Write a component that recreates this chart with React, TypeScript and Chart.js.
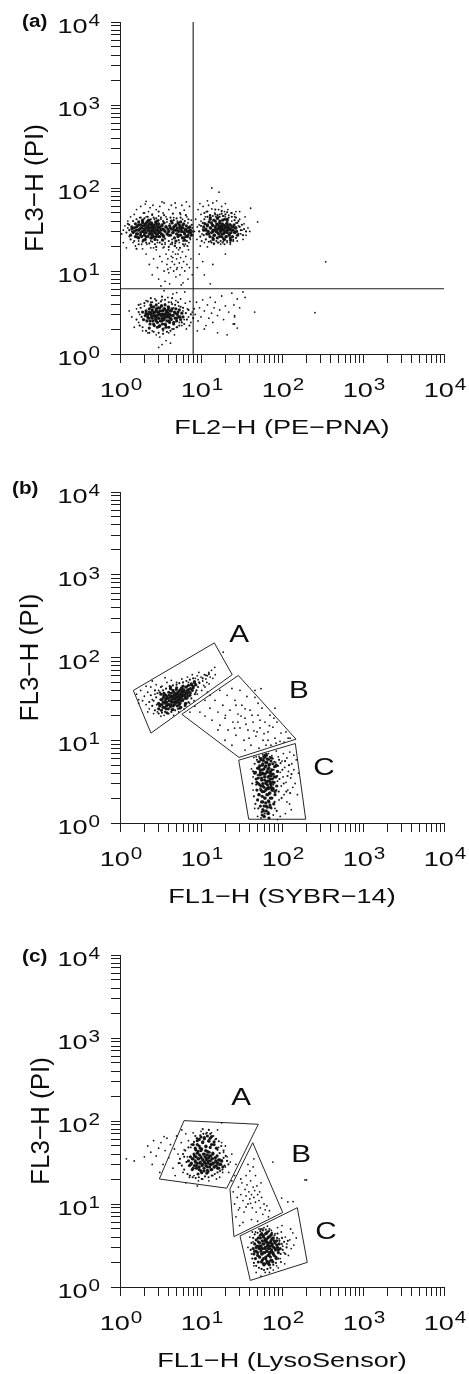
import React, { useEffect, useRef } from "react";
import { Chart, registerables } from "chart.js";

Chart.register(...registerables);

type P = [number, number];

// ---------- axes ----------
const AXIS_TICKS = [
  1, 2, 3, 4, 5, 6, 7, 8, 9,
  10, 20, 30, 40, 50, 60, 70, 80, 90,
  100, 200, 300, 400, 500, 600, 700, 800, 900,
  1000, 2000, 3000, 4000, 5000, 6000, 7000, 8000, 9000,
  10000,
];
const DECADES = [1, 10, 100, 1000, 10000];
const DECADE_EXP = ["0", "1", "2", "3", "4"];

// ---------- panel (a) ----------
const A_UL_CORE: P[] = [
  [1.5, 30], [1.6, 34], [1.6, 28], [1.7, 36], [1.7, 31], [1.8, 27], [1.8, 33], [1.9, 38], [1.9, 30], [2.0, 35],
  [2.0, 29], [2.0, 32], [2.1, 26], [2.1, 37], [2.2, 31], [2.2, 34], [2.3, 28], [2.3, 33], [2.4, 36], [2.4, 30],
  [2.5, 32], [2.5, 27], [2.6, 35], [2.6, 30], [2.7, 33], [2.8, 28], [2.8, 37], [2.9, 31], [3.0, 34], [3.1, 29],
  [3.2, 32], [3.3, 36], [3.4, 27], [3.5, 31], [1.4, 32], [1.9, 41], [2.3, 40], [2.9, 40], [3.7, 34], [1.65, 25.5],
  [2.45, 25], [3.0, 26], [4.2, 33], [4.5, 29], [4.8, 35], [5.0, 31], [5.3, 27], [5.5, 34], [5.8, 30], [6.0, 36],
  [6.3, 28], [6.5, 32], [6.8, 26], [7.0, 30], [7.3, 34], [4.0, 27], [5.2, 38], [6.1, 25], [7.5, 29], [4.6, 31.5],
  [5.7, 32.5],
];
const A_UL_CORE2: P[] = [
  [1.45, 29], [1.5, 33], [1.55, 26], [1.55, 37], [1.6, 31], [1.65, 28], [1.65, 35], [1.7, 39], [1.7, 25], [1.75, 32],
  [1.8, 29], [1.8, 36], [1.85, 26], [1.85, 33], [1.9, 30], [1.9, 40], [1.95, 35], [2.0, 27], [2.0, 31], [2.05, 37],
  [2.05, 24], [2.1, 33], [2.1, 29], [2.15, 39], [2.2, 26], [2.2, 35], [2.25, 31], [2.3, 28], [2.3, 37], [2.35, 33],
  [2.4, 25], [2.4, 30], [2.45, 38], [2.5, 34], [2.5, 28], [2.55, 31], [2.6, 26], [2.6, 36], [2.65, 33], [2.7, 29],
  [2.75, 39], [2.8, 31], [2.8, 26], [2.85, 35], [2.9, 28], [2.95, 33], [3.0, 30], [3.0, 37], [3.1, 26], [3.1, 34],
  [3.2, 31], [3.25, 28], [3.3, 35], [3.4, 32], [3.45, 26], [3.5, 38], [3.6, 30], [3.7, 34], [3.8, 28], [3.9, 32],
  [1.4, 34], [1.35, 27], [2.25, 41], [2.7, 24], [1.95, 23.5], [3.35, 23.5],
  [4.0, 30], [4.1, 35], [4.2, 27], [4.3, 32], [4.4, 38], [4.5, 29], [4.6, 34], [4.7, 25], [4.8, 31], [4.9, 36],
  [5.0, 28], [5.1, 33], [5.2, 26], [5.3, 30], [5.4, 36], [5.5, 32], [5.6, 27], [5.7, 34], [5.8, 30], [5.9, 25],
  [6.0, 33], [6.1, 37], [6.2, 29], [6.4, 31], [6.5, 26], [6.6, 35], [6.8, 30], [6.9, 27], [7.0, 33], [7.2, 29],
  [7.4, 31], [7.6, 27], [4.3, 40], [5.6, 39], [6.3, 23.5], [4.9, 23],
];
const A_UL_HALO: P[] = [
  [1.3, 36], [1.35, 24], [1.45, 40], [1.5, 23], [1.6, 42], [1.7, 21], [1.8, 44], [1.9, 22.5], [2.0, 43], [2.1, 22],
  [2.2, 45], [2.3, 21.5], [2.4, 42], [2.5, 22.5], [2.6, 44], [2.7, 21], [2.8, 43], [2.9, 23.5], [3.0, 41], [3.1, 22],
  [3.2, 44], [3.3, 21], [3.4, 40], [3.6, 24.5], [3.8, 42], [4.0, 23], [4.2, 44], [4.4, 22], [4.6, 41], [4.8, 21.5],
  [5.0, 43], [5.3, 23.5], [5.6, 44], [6.0, 21], [6.3, 40], [6.7, 23], [7.0, 42], [7.3, 25], [7.7, 36], [1.2, 29],
  [1.25, 37], [1.3, 31], [8.0, 30], [7.9, 27], [2.5, 48], [3.5, 47], [4.5, 49], [5.5, 50], [6.5, 47], [2.0, 50],
  [3.0, 52], [1.6, 18.5], [2.8, 19.5], [4.0, 19.5], [5.5, 19], [6.8, 20],
];
const A_UL_SPARSE: P[] = [
  [1.05, 28], [1.1, 22], [1.15, 35], [1.2, 19], [1.25, 40], [1.3, 26], [1.35, 45], [1.1, 31], [1.45, 22], [1.5, 48],
  [1.55, 20], [1.6, 55], [1.7, 23], [1.75, 44], [1.8, 60], [1.85, 21], [1.95, 50], [2.05, 64], [2.1, 45], [2.15, 21],
  [2.25, 52], [2.35, 58], [2.4, 23], [2.5, 47], [2.55, 62], [2.65, 42], [2.7, 24], [2.8, 55], [2.9, 22], [3.0, 46],
  [3.1, 60], [3.2, 42], [3.3, 24], [3.4, 50], [3.5, 66], [3.6, 22], [3.7, 45], [3.8, 39], [3.9, 29], [4.0, 55],
  [4.1, 37], [4.3, 62], [4.4, 24], [4.6, 44], [4.7, 20], [4.9, 58], [5.1, 40], [5.4, 22], [5.6, 48], [5.9, 42],
  [6.2, 54], [6.4, 21], [6.7, 45], [6.9, 38], [7.2, 60], [7.4, 24], [7.6, 41], [7.8, 33], [3.3, 68], [2.1, 69],
  [4.8, 66], [5.8, 62], [6.6, 68], [1.4, 30], [1.25, 33], [1.9, 18.5], [2.6, 19], [3.5, 19.5], [4.2, 21], [5.0, 19],
  [6.0, 23], [7.1, 22],
];
const A_DRIP: P[] = [
  [2.1, 16], [2.3, 12], [2.5, 9], [2.6, 14], [2.8, 18], [2.9, 11], [3.0, 8], [3.1, 15], [3.3, 13], [3.4, 19],
  [3.5, 10], [3.6, 7.5], [3.7, 16], [3.8, 12], [3.9, 14], [4.0, 18], [4.0, 9.5], [4.2, 11], [4.3, 15], [4.4, 13],
  [4.5, 17], [4.6, 10], [4.7, 12], [4.8, 20], [4.9, 8.5], [5.0, 14], [5.1, 11], [5.2, 16], [5.3, 18], [5.4, 12.5],
  [5.5, 9], [5.6, 14.5], [5.8, 11], [5.9, 17], [6.0, 7.2], [6.1, 13], [6.3, 10], [6.5, 15], [6.7, 12], [6.9, 8],
  [7.0, 18], [7.2, 11], [7.5, 14], [7.8, 9], [3.2, 6.6], [4.1, 7.0], [5.7, 6.8], [2.4, 19], [3.6, 21], [4.4, 21],
  [6.2, 20], [5.0, 10.5], [4.5, 14.5], [3.9, 10.5], [4.85, 16], [10.5, 13], [11, 9], [13, 7], [9.5, 16], [14, 12],
  [20, 16], [9, 11],
];
const A_UR_CORE: P[] = [
  [11.5, 31], [12, 35], [12.5, 28], [13, 33], [13.5, 38], [14, 30], [14.5, 27], [15, 34], [15, 40], [15.5, 31],
  [16, 36], [16, 29], [16.5, 33], [17, 26], [17, 38], [17.5, 31], [18, 34], [18, 28], [18.5, 41], [19, 32],
  [19, 36], [19.5, 29], [20, 34], [20.5, 26], [21, 31], [21, 38], [22, 33], [22.5, 28], [23, 36], [24, 31],
  [25, 34], [26, 29], [27, 33], [13, 42], [16, 43], [21, 42], [14, 25], [19, 24.5], [23, 25], [10.8, 34],
  [17.5, 35], [14, 35.5],
];
const A_UR_CORE2: P[] = [
  [11.5, 32], [11.8, 28], [12, 36], [12.3, 30], [12.6, 39], [12.9, 26], [13.2, 33], [13.5, 29], [13.8, 36], [14.1, 31],
  [14.4, 41], [14.7, 27], [15, 34], [15.3, 30], [15.6, 37], [15.9, 25], [16.2, 32], [16.5, 28], [16.8, 35], [17.1, 40],
  [17.4, 30], [17.7, 33], [18, 26], [18.3, 37], [18.6, 31], [18.9, 28], [19.2, 35], [19.5, 42], [19.8, 30], [20.1, 33],
  [20.4, 26], [20.7, 37], [21, 29], [21.4, 34], [21.8, 31], [22.2, 27], [22.6, 36], [23, 32], [23.5, 29], [24, 34],
  [24.5, 26], [25, 31], [25.6, 36], [26.2, 29], [26.8, 33], [27.5, 30], [28.2, 27], [13, 44], [16, 44], [21, 41],
  [14.2, 24], [19.5, 24], [23.2, 23.5], [10.8, 31], [11.2, 37], [17, 32.5], [15, 31.5], [19, 32], [21, 35],
];
const A_UR_HALO: P[] = [
  [9.5, 30], [9.8, 26], [10, 35], [10.2, 23], [10.5, 38], [10.8, 27], [11, 42], [11.5, 24], [12, 45], [12.5, 22.5],
  [13, 47], [13.5, 22], [14, 46], [14.5, 21.5], [15, 48], [15.5, 23], [16, 47], [16.5, 22], [17, 45], [17.5, 23],
  [18, 49], [18.5, 22], [19, 46], [19.5, 21], [20, 48], [21, 23], [22, 44], [23, 22], [24, 45], [25, 23],
  [26, 41], [27, 25], [28, 38], [29, 28], [30, 34], [31, 31], [32, 36], [33, 27], [34, 32], [36, 30],
  [29, 40], [27, 44], [12, 52], [15, 55], [18, 53], [21, 51], [24, 50], [11, 50],
];
const A_UR_SPARSE: P[] = [
  [8.3, 30], [8.6, 42], [8.9, 24], [9.2, 55], [9.5, 36], [9.8, 20], [10, 48], [10.3, 28], [10.6, 60], [11, 22],
  [11.3, 45], [11.6, 52], [12, 19.5], [12.4, 62], [12.8, 47], [13.2, 23], [13.6, 56], [14, 66], [14.4, 21], [14.8, 50],
  [15.2, 45], [15.6, 70], [16, 22], [16.5, 55], [17, 48], [17.5, 21], [18, 60], [18.5, 46], [19, 23], [19.5, 52],
  [20, 45], [21, 22], [21.5, 55], [22, 47], [23, 21], [23.5, 50], [24, 40], [25, 24], [26, 45], [27, 38],
  [28, 23], [29, 35], [30, 42], [31, 28], [32, 31], [34, 37], [36, 27], [38, 33], [40, 30], [9, 34],
  [10, 40], [26, 48], [33, 24], [12, 70], [9.7, 65], [20, 65], [27, 52], [35, 45], [30, 52], [11, 38],
  [10.5, 32], [28, 30], [13.6, 100], [16.7, 89], [41, 57], [50, 39], [347, 12.9],
];
const A_LOW_CORE: P[] = [
  [2.2, 2.8], [2.3, 3.2], [2.35, 2.5], [2.4, 3.0], [2.5, 2.7], [2.5, 3.4], [2.6, 2.3], [2.6, 3.1], [2.7, 2.9], [2.8, 3.5],
  [2.8, 2.5], [2.9, 3.2], [3.0, 2.7], [3.0, 3.0], [3.1, 2.2], [3.1, 3.6], [3.2, 2.9], [3.3, 3.3], [3.3, 2.5], [3.4, 3.0],
  [3.5, 2.7], [3.5, 3.5], [3.6, 2.3], [3.7, 3.1], [3.8, 2.8], [3.9, 3.4], [4.0, 2.5], [4.1, 3.0], [4.2, 2.7], [4.3, 3.3],
  [4.5, 2.9], [4.6, 2.4], [4.8, 3.1], [5.0, 2.7], [5.2, 3.2], [5.5, 2.8], [2.45, 3.7], [3.25, 3.8], [4.0, 3.6], [2.9, 2.1],
  [3.7, 2.1], [2.1, 3.1], [3.4, 2.6], [2.75, 2.75], [3.9, 2.95],
];
const A_LOW_CORE2: P[] = [
  [2.05, 2.9], [2.1, 3.3], [2.15, 2.5], [2.2, 3.0], [2.25, 2.7], [2.3, 3.5], [2.35, 2.3], [2.4, 3.1], [2.45, 2.8], [2.5, 3.3],
  [2.55, 2.5], [2.6, 3.7], [2.6, 2.9], [2.65, 2.2], [2.7, 3.2], [2.75, 2.6], [2.8, 3.4], [2.85, 2.9], [2.9, 2.4], [2.95, 3.6],
  [3.0, 3.1], [3.0, 2.7], [3.05, 2.15], [3.1, 3.3], [3.15, 2.5], [3.2, 3.0], [3.25, 3.8], [3.3, 2.7], [3.35, 2.3], [3.4, 3.3],
  [3.45, 2.9], [3.5, 2.6], [3.55, 3.5], [3.6, 3.0], [3.65, 2.25], [3.7, 2.8], [3.75, 3.3], [3.8, 2.5], [3.9, 3.1], [3.95, 3.7],
  [4.0, 2.8], [4.1, 2.4], [4.15, 3.3], [4.2, 2.95], [4.3, 2.6], [4.4, 3.5], [4.5, 2.9], [4.6, 2.3], [4.7, 3.2], [4.8, 2.7],
  [4.9, 3.5], [5.0, 2.5], [5.1, 3.0], [5.3, 2.8], [5.4, 3.4], [5.6, 2.6], [5.8, 3.1], [6.0, 2.8], [2.3, 2.05], [3.4, 2.0],
  [4.0, 2.1], [2.8, 3.9], [3.6, 3.9], [2.4, 3.9], [1.95, 2.6], [1.9, 3.2],
];
const A_LOW_HALO: P[] = [
  [1.6, 2.6], [1.7, 3.2], [1.75, 2.2], [1.8, 3.6], [1.85, 2.8], [1.9, 2.1], [2.0, 4.1], [2.1, 1.9], [2.2, 4.3], [2.3, 1.8],
  [2.5, 4.2], [2.6, 1.85], [2.8, 4.4], [3.0, 1.8], [3.2, 4.3], [3.4, 1.75], [3.6, 4.5], [3.8, 1.85], [4.0, 4.2], [4.2, 1.9],
  [4.4, 4.0], [4.6, 2.0], [4.8, 3.9], [5.0, 2.1], [5.2, 4.2], [5.4, 2.2], [5.6, 3.7], [5.8, 2.4], [6.0, 3.6], [6.2, 2.3],
  [6.5, 3.1], [6.7, 2.6], [7.0, 3.4], [7.2, 2.2], [7.5, 3.0], [8.0, 2.7], [8.2, 3.5], [1.7, 3.9], [2.4, 4.7], [3.3, 4.9],
  [4.4, 4.7],
];
const A_LOW_SPARSE: P[] = [
  [1.4, 2.8], [1.5, 2.1], [1.6, 3.5], [1.7, 2.4], [1.75, 3.0], [1.8, 4.0], [1.9, 1.9], [2.0, 2.6], [2.0, 3.8], [2.1, 4.4],
  [2.2, 1.8], [2.4, 4.2], [2.5, 1.9], [2.7, 4.6], [2.8, 1.7], [3.0, 4.1], [3.1, 1.6], [3.3, 4.5], [3.4, 1.9], [3.6, 4.0],
  [3.7, 1.45], [3.9, 4.8], [4.0, 1.8], [4.3, 4.2], [4.4, 2.0], [4.6, 3.6], [4.7, 1.7], [4.9, 4.4], [5.1, 2.1], [5.3, 3.8],
  [5.4, 2.4], [5.6, 4.6], [5.8, 2.2], [6.0, 3.3], [6.2, 2.6], [6.4, 4.1], [6.6, 2.0], [6.8, 3.5], [7.0, 2.8], [7.3, 4.3],
  [7.5, 2.4], [7.8, 3.2], [1.3, 3.3], [4.5, 5.3], [5.0, 5.5], [3.5, 5.8], [6.3, 5.6], [3.3, 1.3], [3.0, 1.2], [4.2, 1.35],
  [8.5, 3.0], [8.8, 4.2], [9.2, 2.5], [9.6, 3.6], [10, 2.8], [10.5, 4.5], [11, 3.3], [11.5, 2.2], [12, 3.9], [12.5, 2.7],
  [13, 4.8], [13.5, 3.1], [14, 2.4], [14.5, 3.6], [15, 4.2], [16, 2.9], [17, 3.4], [18, 5.0], [19, 2.6], [20, 3.8],
  [22, 3.2], [24, 5.4], [26, 2.9], [28, 4.6], [30, 3.6], [33, 5.6], [9, 1.9], [11, 2.0], [16, 1.8], [21, 1.7],
  [26, 2.3], [35, 4.8], [28, 2.05], [25.5, 3.9], [46, 3.2], [26, 2.8], [255, 3.15], [25, 2.3],
];
const A_QUAD_V: P[] = [[8, 1], [8, 10000]];
const A_QUAD_H: P[] = [[1, 6.1], [10000, 6.1]];

// ---------- panel (b) ----------
const B_A_CORE: P[] = [
  [3.1, 27], [3.3, 31], [3.4, 25], [3.5, 35], [3.6, 29], [3.8, 33], [3.9, 27], [4.0, 38], [4.1, 30], [4.2, 25.5],
  [4.3, 34], [4.4, 29], [4.5, 40], [4.6, 32], [4.7, 27], [4.8, 36], [4.9, 30], [5.0, 43], [5.0, 33], [5.1, 26],
  [5.2, 38], [5.3, 31], [5.4, 35], [5.5, 28], [5.6, 41], [5.7, 33], [5.8, 37], [5.9, 30], [6.0, 45], [6.1, 35],
  [6.3, 39], [6.5, 32], [6.6, 44], [6.8, 37], [7.0, 41], [7.3, 35], [7.6, 47], [8.0, 43], [8.3, 50], [3.7, 24],
  [4.5, 23.5], [5.5, 24.5], [4.2, 44], [3.2, 36], [6.4, 27.5], [4.65, 35], [5.25, 29], [5.75, 39.5],
];
const B_A_CORE2: P[] = [
  [3.0, 24], [3.0, 28], [3.1, 26], [3.2, 31], [3.25, 23], [3.3, 27], [3.4, 29], [3.45, 33], [3.5, 25], [3.6, 28],
  [3.65, 31], [3.7, 35], [3.75, 26], [3.8, 29], [3.9, 32], [3.95, 24], [4.0, 27], [4.05, 35], [4.1, 30], [4.2, 33],
  [4.25, 27], [4.3, 37], [4.35, 29], [4.4, 31], [4.5, 34], [4.55, 26], [4.6, 29], [4.65, 38], [4.7, 32], [4.8, 35],
  [4.85, 28], [4.9, 30], [4.95, 41], [5.0, 33], [5.05, 36], [5.1, 29], [5.2, 38], [5.25, 31], [5.3, 34], [5.4, 27],
  [5.45, 40], [5.5, 32], [5.6, 36], [5.7, 30], [5.75, 43], [5.8, 34], [5.9, 38], [6.0, 31], [6.1, 41], [6.2, 35],
  [6.3, 38], [6.4, 33], [6.5, 44], [6.6, 36], [6.8, 40], [6.9, 34], [7.0, 46], [7.2, 38], [7.4, 42], [7.6, 48],
  [7.8, 40], [8.0, 45], [8.3, 51], [8.6, 47], [4.2, 42], [3.5, 37], [5.6, 25], [6.5, 28], [4.4, 23.5], [3.8, 21.5],
];
const B_A_HALO: P[] = [
  [2.5, 26], [2.6, 30], [2.7, 23], [2.8, 33], [2.85, 27], [2.9, 37], [3.0, 21], [3.1, 38], [3.3, 21.5], [3.4, 40],
  [3.6, 22], [3.7, 42], [3.9, 21], [4.1, 45], [4.3, 22], [4.5, 46], [4.8, 23], [5.0, 47], [5.2, 24], [5.4, 49],
  [5.7, 25], [6.0, 50], [6.3, 26], [6.6, 52], [7.0, 29], [7.3, 54], [7.6, 32], [8.0, 56], [8.4, 36], [8.8, 40],
  [9.2, 44], [2.7, 40], [3.2, 44], [2.4, 35], [2.3, 29], [6.8, 32], [7.5, 37], [9.5, 50], [10.5, 56], [11.5, 61],
  [12.5, 63],
];
const B_A_SPARSE: P[] = [
  [8.8, 46], [9.2, 54], [9.6, 49], [10, 58], [10.5, 52], [11, 62], [11.5, 55], [12, 60], [12.5, 66], [13, 58],
  [9, 60], [10.8, 46], [13.5, 70], [8.5, 56], [11.8, 50],
  [1.6, 36], [1.8, 40], [1.9, 30], [2.0, 34], [2.1, 27], [2.2, 38], [2.3, 24], [2.4, 44], [2.5, 31], [2.6, 21],
  [2.7, 36], [2.8, 47], [2.9, 22], [3.0, 40], [3.2, 19.5], [3.3, 45], [3.5, 20], [3.8, 50], [4.0, 21], [4.3, 53],
  [4.6, 20], [5.0, 50], [5.3, 22], [5.8, 55], [6.2, 24], [6.8, 58], [7.2, 28], [7.8, 62], [8.2, 30], [9.4, 66],
  [10.2, 40], [11.2, 44], [12.6, 48], [14, 56], [15, 62], [14.8, 76], [18.8, 116], [2.2, 22], [1.7, 31], [2.5, 52],
  [3.6, 57], [6.5, 26], [9, 36], [7, 50], [8.6, 38], [12, 38], [1.7, 28], [2.1, 45],
];
const B_B_SPARSE: P[] = [
  [7.3, 21.9], [8.4, 25.8], [9.7, 21.9], [11.2, 30.4], [11.2, 19.6], [12.9, 34.9], [12.9, 24.4], [13.7, 17.5], [14.9, 30.4], [16.2, 21.9],
  [17.1, 40.1], [17.1, 15.2], [18.6, 26.5], [19.8, 18.5], [21, 34.9], [21.6, 13.3], [22.8, 23.1], [24.1, 42.2], [24.8, 16.6], [26.3, 30.4],
  [27, 11.5], [28.6, 20.7], [30.3, 40.1], [30.3, 14.1], [32, 26.5], [33.9, 10], [34.9, 18.5], [36.9, 33.9], [38, 13.3], [40.3, 23.1],
  [41.4, 8.7], [43.9, 16.6], [46.4, 33], [47.7, 11.2], [50.6, 20.1], [50.6, 28], [52, 8], [53.5, 14.1], [56.6, 24.4], [58.3, 10],
  [61.7, 16.6], [63.5, 8.7], [67.2, 12.6], [71, 20.1], [73, 8.7], [77.3, 14.4], [79.5, 18.5], [82, 10.6], [86.8, 16.6], [84.4, 9.2],
  [94.5, 9.7], [97.2, 12.2], [106, 9.5], [112, 12.6], [119, 10.6], [126, 10.6], [19.8, 10], [16.2, 13.3], [34.9, 7.6], [24.1, 8.7],
  [27, 26.5], [42.6, 20.1], [53.5, 17.5], [35.9, 15.6], [28.6, 16.6], [49.2, 12.6], [67.2, 10], [39.2, 10.6], [31.2, 19.6], [82, 24.4],
  [46.4, 40], [55, 42], [20, 20], [26, 14], [45, 13], [60, 12], [35, 24], [70, 15],
];
const B_C_CORE: P[] = [
  [55, 5.8], [60, 6.2], [66, 5.9], [58, 5.2], [63, 5.4], [69, 5.0], [52, 4.6], [57, 4.4], [62, 4.8], [67, 4.5],
  [72, 4.2], [54, 4.0], [60, 3.9], [65, 4.1], [70, 3.7], [75, 3.9], [51, 3.5], [56, 3.3], [61, 3.6], [66, 3.2],
  [71, 3.4], [76, 3.1], [53, 2.9], [58, 2.8], [63, 3.0], [68, 2.7], [73, 2.9], [78, 2.6], [55, 2.5], [60, 2.4],
  [65, 2.6], [70, 2.3], [75, 2.5], [52, 2.2], [57, 2.1], [62, 2.0], [67, 2.2], [72, 2.0], [58, 1.8], [63, 1.75],
  [68, 1.85], [60, 1.6], [66, 1.55], [71, 1.65], [64, 1.4], [58, 1.45], [62, 6.6], [49, 3.1], [80, 3.6], [47, 4.1],
  [82, 2.4], [56, 3.9], [74, 2.65],
];
const B_C_CORE2: P[] = [
  [48, 3.4], [49, 2.5], [50, 4.6], [50, 1.9], [51, 3.0], [52, 5.5], [52, 2.2], [53, 3.8], [54, 1.6], [54, 4.3],
  [55, 2.8], [55, 6.0], [56, 3.5], [56, 1.8], [57, 5.0], [57, 2.4], [58, 4.0], [58, 3.0], [59, 1.4], [59, 5.7],
  [60, 2.7], [60, 4.5], [61, 3.3], [61, 2.0], [62, 6.3], [62, 3.9], [63, 2.5], [63, 4.9], [64, 1.6], [64, 3.1],
  [65, 5.4], [65, 2.2], [66, 4.2], [66, 2.9], [67, 3.6], [67, 1.3], [68, 5.9], [68, 2.6], [69, 4.6], [69, 1.8],
  [70, 3.2], [70, 5.1], [71, 2.3], [71, 4.0], [72, 3.0], [72, 1.55], [73, 5.6], [73, 3.7], [74, 2.7], [75, 4.4],
  [75, 2.0], [76, 3.4], [77, 5.2], [77, 2.5], [78, 3.9], [79, 1.7], [80, 3.1], [81, 4.8], [82, 2.2], [84, 3.6],
  [86, 2.8], [88, 4.2], [64, 6.7], [60, 1.2], [69, 1.15], [53, 4.9], [57, 1.25], [74, 6.1], [85, 5.0], [46, 4.0],
];
const B_C_HALO: P[] = [
  [43, 3.0], [44, 4.2], [45, 2.1], [46, 5.2], [47, 1.7], [48, 2.9], [49, 5.8], [50, 3.8], [51, 1.5], [53, 6.1],
  [54, 2.6], [56, 1.35], [59, 6.4], [61, 1.3], [65, 6.5], [68, 1.35], [71, 6.3], [74, 1.5], [77, 6.0], [79, 4.4],
  [81, 1.8], [83, 5.4], [85, 2.5], [87, 3.7], [89, 4.9], [91, 2.4], [93, 3.4], [96, 5.3], [99, 2.0], [101, 4.4],
  [105, 3.0], [109, 5.6], [113, 2.4], [117, 3.7], [122, 5.0], [126, 2.3], [131, 3.9], [86, 1.4], [92, 5.8], [78, 2.9],
];
const B_C_SPARSE: P[] = [
  [42, 4.5], [44, 2.5], [45, 6.2], [46, 1.5], [48, 6.3], [50, 1.2], [52, 6.4], [55, 1.15], [58, 6.7], [62, 1.2],
  [68, 6.9], [70, 1.3], [75, 6.5], [78, 1.25], [80, 5.5], [82, 1.5], [85, 4.8], [88, 3.2], [90, 6.3], [92, 1.9],
  [95, 4.1], [98, 2.8], [100, 5.6], [103, 3.6], [106, 2.2], [108, 4.7], [112, 3.1], [115, 6.1], [118, 2.5], [120, 4.2],
  [124, 1.7], [128, 3.5], [132, 5.2], [136, 2.7], [140, 4.4], [145, 3.0], [150, 5.8], [155, 2.2], [140, 6.6], [125, 7.2],
  [110, 1.3], [95, 1.2], [50, 5.5], [44, 3.6], [88, 1.1], [160, 4.0], [130, 1.45], [85, 7.4], [104, 6.9], [115, 1.8],
];
const B_GATE_A: P[] = [[1.46, 40], [14.6, 150], [24.3, 62], [2.41, 12.2]];
const B_GATE_B: P[] = [[5.8, 20.6], [28.9, 60.7], [149, 10.3], [29.5, 6.2]];
const B_GATE_C: P[] = [[29.2, 5.74], [146, 9.12], [196, 1.11], [38.8, 1.11]];
const B_GATE_LABELS: [string, number, number][] = [["A", 29.5, 192], ["B", 162, 40], ["C", 330, 4.7]];

// ---------- panel (c) ----------
const C_A_CORE: P[] = [
  [7.5, 30], [7.8, 35], [8.0, 27], [8.3, 38], [8.5, 32], [8.8, 29], [9.0, 41], [9.2, 35], [9.5, 26], [9.7, 31],
  [10, 37], [10, 44], [10.3, 29], [10.6, 34], [10.9, 25], [11, 40], [11.3, 31], [11.6, 36], [12, 28], [12, 43],
  [12.3, 33], [12.7, 38], [13, 30], [13.3, 26], [13.6, 35], [14, 41], [14, 31], [14.5, 28], [15, 36], [15.5, 32],
  [16, 27], [16.5, 34], [17, 30], [18, 33], [9.8, 47], [11.5, 50], [13, 48], [9, 52], [10.5, 56], [12.5, 58],
  [14.5, 52], [11, 63], [9.5, 60], [13.5, 65], [8.6, 45], [12.2, 24.5], [10.2, 23.8],
];
const C_A_CORE2: P[] = [
  [7.0, 33], [7.2, 29], [7.4, 37], [7.6, 31], [7.8, 26], [8.0, 35], [8.2, 40], [8.3, 29], [8.5, 33], [8.7, 37],
  [8.8, 27], [9.0, 31], [9.2, 43], [9.3, 35], [9.5, 28], [9.6, 39], [9.8, 32], [10, 25], [10, 36], [10.2, 46],
  [10.4, 30], [10.5, 34], [10.7, 40], [10.9, 27], [11, 32], [11.2, 37], [11.4, 44], [11.5, 29], [11.7, 34], [11.9, 39],
  [12, 25.5], [12.2, 31], [12.4, 36], [12.6, 42], [12.8, 28], [13, 33], [13.2, 38], [13.4, 30], [13.6, 26], [13.8, 35],
  [14, 40], [14.3, 31], [14.6, 28], [14.9, 36], [15.2, 33], [15.5, 29], [15.8, 38], [16.2, 31], [16.6, 27], [17, 34],
  [17.5, 30], [18, 33], [18.6, 28], [9.5, 50], [10.5, 55], [11.5, 49], [12.5, 57], [13.5, 52], [9, 58], [11, 61],
  [12, 66], [10, 64], [13, 62], [14.5, 56], [8.5, 47], [15.5, 47], [11.8, 23.5], [9.2, 23], [8.0, 52],
];
const C_A_HALO: P[] = [
  [5.5, 35], [5.8, 29], [6.0, 40], [6.2, 26], [6.4, 44], [6.6, 32], [6.8, 23], [7.0, 48], [7.3, 22], [7.6, 52],
  [7.9, 21], [8.2, 56], [8.6, 20.5], [9.0, 62], [9.4, 21], [9.8, 67], [10.2, 20], [10.7, 70], [11.2, 21.5], [11.8, 72],
  [12.4, 21], [13, 70], [13.6, 22], [14.2, 66], [14.8, 23], [15.4, 61], [16, 24], [16.6, 57], [17.2, 25], [17.8, 50],
  [18.4, 26], [19, 44], [19.6, 29], [20.2, 38], [21, 33], [21.8, 30], [19, 36], [17, 41], [16, 45], [6.2, 37],
  [5.3, 31], [12.5, 78], [10.5, 80], [8.5, 66],
];
const C_A_SPARSE: P[] = [
  [1.2, 35], [1.5, 33], [2.2, 50], [2.4, 42], [2.6, 58], [2.8, 38], [3.0, 47], [3.2, 55], [3.4, 30], [3.6, 44],
  [3.8, 62], [4.0, 36], [4.2, 52], [4.5, 27], [4.7, 46], [5.0, 66], [5.2, 40], [5.5, 31], [5.7, 55], [6.0, 24],
  [6.2, 45], [6.5, 70], [6.8, 37], [7.0, 58], [7.2, 21], [7.5, 48], [8.0, 72], [8.2, 22], [8.8, 62], [9.3, 19],
  [10, 75], [10.5, 20], [11.5, 70], [12.5, 19], [13.5, 72], [14, 22], [15, 60], [15.5, 20], [16.5, 48], [17, 21],
  [18, 55], [18.5, 24], [19, 42], [20, 28], [21, 37], [22, 24], [23, 32], [24, 19], [4.8, 22], [3.5, 65],
  [5.8, 78], [20, 50], [24, 40], [26, 22], [27, 30], [6.5, 18], [9, 16.5], [16, 78], [18, 95], [3.1, 24],
  [2.0, 37], [2.5, 30],
];
const C_B_SPARSE: P[] = [
  [25, 14], [26, 10], [27, 7], [28, 12], [29, 16], [30, 9], [31, 13], [32, 18], [33, 11], [34, 8],
  [35, 15], [36, 12.5], [37, 17], [38, 10], [39, 14], [40, 11.5], [41, 19], [42, 13], [43, 9], [44, 16],
  [45, 12], [46, 14.5], [47, 10.5], [48, 8], [50, 13], [52, 11], [54, 9], [56, 12], [58, 7.5], [60, 10],
  [62, 8.5], [65, 9.5], [68, 7], [70, 8.3], [36, 22], [40, 25], [44, 28], [47, 22], [33, 6], [30, 5.5],
  [42, 6.5], [50, 6.2], [55, 18], [38, 30], [45, 35], [31, 20], [29, 8.5], [36, 9.2], [41, 10.2], [49, 16.5],
  [53, 14], [77, 32], [192, 19.5], [118, 10.6], [99, 11.8], [201, 19.5], [137, 10.7],
];
const C_C_CORE: P[] = [
  [48, 3.0], [50, 2.6], [51, 3.5], [53, 2.3], [54, 3.9], [55, 2.9], [57, 2.1], [58, 3.3], [59, 4.2], [60, 2.6],
  [62, 3.0], [63, 2.2], [64, 3.7], [65, 2.7], [66, 1.95], [67, 3.2], [68, 4.0], [69, 2.4], [70, 2.9], [72, 3.4],
  [73, 2.1], [74, 2.7], [76, 3.1], [78, 2.5], [80, 3.6], [82, 2.9], [84, 2.3], [86, 3.2], [56, 2.5], [61, 3.6],
  [66, 3.4], [71, 2.55], [75, 3.8], [52, 3.1], [63, 4.4], [59, 1.9], [77, 2.0], [90, 2.8], [46, 2.7], [70, 1.85],
];
const C_C_CORE2: P[] = [
  [44, 2.9], [45, 2.5], [46, 3.3], [47, 2.2], [48, 3.7], [48, 2.7], [49, 3.1], [50, 2.4], [51, 3.9], [51, 2.0],
  [52, 2.9], [53, 3.4], [53, 2.3], [54, 4.2], [55, 2.7], [55, 3.1], [56, 2.0], [57, 3.6], [57, 2.5], [58, 2.9],
  [59, 4.0], [59, 2.2], [60, 3.3], [61, 2.6], [61, 1.9], [62, 3.8], [62, 2.9], [63, 2.3], [64, 3.5], [64, 4.4],
  [65, 2.7], [65, 2.05], [66, 3.1], [67, 3.9], [67, 2.4], [68, 2.9], [69, 3.4], [69, 2.0], [70, 2.6], [71, 4.1],
  [71, 3.1], [72, 2.3], [73, 3.6], [74, 2.8], [75, 2.1], [76, 3.3], [77, 2.6], [78, 3.9], [79, 3.0], [80, 2.4],
  [82, 3.4], [83, 2.8], [85, 2.2], [86, 3.6], [88, 3.0], [90, 2.6], [92, 3.3], [56, 4.4], [60, 1.85], [68, 1.9],
  [74, 4.3], [95, 2.9], [66, 4.6],
];
const C_C_HALO: P[] = [
  [41, 2.8], [42, 3.4], [43, 2.2], [44, 3.9], [45, 1.95], [46, 4.3], [48, 1.8], [50, 4.5], [52, 1.7], [54, 4.7],
  [56, 1.65], [58, 4.8], [60, 1.6], [63, 4.9], [66, 1.65], [69, 4.7], [72, 1.7], [75, 4.5], [78, 1.85], [81, 4.2],
  [84, 1.95], [87, 3.9], [90, 2.2], [93, 3.6], [96, 2.5], [99, 3.3], [102, 2.8], [106, 3.5], [110, 2.5], [114, 3.0],
  [118, 3.6], [97, 2.0], [88, 4.4], [100, 3.9], [70, 5.0], [55, 5.0],
];
const C_C_SPARSE: P[] = [
  [40, 4.0], [42, 2.5], [43, 4.6], [45, 1.8], [47, 4.6], [48, 1.5], [52, 5.0], [55, 1.35], [58, 5.0], [62, 1.5],
  [66, 5.4], [70, 1.5], [74, 4.8], [78, 1.6], [82, 4.4], [86, 1.8], [88, 5.2], [92, 3.8], [95, 2.2], [98, 4.6],
  [102, 3.1], [106, 2.6], [110, 4.0], [115, 3.3], [120, 2.4], [125, 3.7], [130, 2.9], [136, 4.5], [140, 3.2], [150, 3.9],
  [38, 3.0], [44, 3.5], [90, 1.7], [100, 5.5], [108, 1.9], [128, 5.0], [60, 5.2],
];
const C_GATE_A: P[] = [[3.06, 20], [6.17, 101], [51, 91.3], [20.8, 15.5]];
const C_GATE_B: P[] = [[43.5, 54.8], [102, 7.9], [25.5, 4.04], [22.8, 15.2]];
const C_GATE_C: P[] = [[30.3, 4.12], [154.5, 9.02], [205, 1.98], [40.6, 1.2]];
const C_GATE_LABELS: [string, number, number][] = [["A", 31.2, 195], ["B", 172, 40], ["C", 349, 4.7]];

// ---------- styling ----------
const FONT = "'Liberation Sans', Arial, Helvetica, sans-serif";
const INK = "#161616";
const AXIS = "#1e1e1e";
const SX = 1.29;
const CORE_R = 1.6;
const HALO_R = 1.1;
const SPARSE_R = 0.9;

interface PanelSpec {
  top: number;
  height: number;
  bottom: number;
  label: string;
  labelX: number;
  labelY: number;
  yTitleX: number;
  xTitle: string;
  cores: P[][];
  halos: P[][];
  sparse: P[][];
  gates: P[][];
  lines: P[][];
  gateLabels: [string, number, number][];
}

const PANELS: PanelSpec[] = [
  {
    top: 0, height: 470, bottom: 354, label: "(a)", labelX: 22, labelY: 27, yTitleX: 43,
    xTitle: "FL2\u2212H (PE\u2212PNA)",
    cores: [A_UL_CORE, A_UL_CORE2, A_UR_CORE, A_UR_CORE2, A_LOW_CORE, A_LOW_CORE2],
    halos: [A_UL_HALO, A_UR_HALO, A_LOW_HALO],
    sparse: [A_UL_SPARSE, A_DRIP, A_UR_SPARSE, A_LOW_SPARSE],
    gates: [], lines: [A_QUAD_V, A_QUAD_H], gateLabels: [],
  },
  {
    top: 470, height: 463, bottom: 353, label: "(b)", labelX: 12, labelY: 24, yTitleX: 38,
    xTitle: "FL1\u2212H (SYBR\u221214)",
    cores: [B_A_CORE, B_A_CORE2, B_C_CORE, B_C_CORE2],
    halos: [B_A_HALO, B_C_HALO],
    sparse: [B_A_SPARSE, B_B_SPARSE, B_C_SPARSE],
    gates: [B_GATE_A, B_GATE_B, B_GATE_C], lines: [], gateLabels: B_GATE_LABELS,
  },
  {
    top: 933, height: 441, bottom: 354, label: "(c)", labelX: 22, labelY: 29, yTitleX: 49,
    xTitle: "FL1\u2212H (LysoSensor)",
    cores: [C_A_CORE, C_A_CORE2, C_C_CORE, C_C_CORE2],
    halos: [C_A_HALO, C_C_HALO],
    sparse: [C_A_SPARSE, C_B_SPARSE, C_C_SPARSE],
    gates: [C_GATE_A, C_GATE_B, C_GATE_C], lines: [], gateLabels: C_GATE_LABELS,
  },
];

function textWidth(ctx: CanvasRenderingContext2D, t: string, font: string, sx: number) {
  ctx.font = font;
  return ctx.measureText(t).width * sx;
}

function drawStretched(ctx: CanvasRenderingContext2D, t: string, x: number, y: number, font: string, sx: number) {
  ctx.save();
  ctx.font = font;
  ctx.textAlign = "left";
  ctx.textBaseline = "alphabetic";
  ctx.translate(x, y);
  ctx.scale(sx, 1);
  ctx.fillText(t, 0, 0);
  ctx.restore();
}

function drawPow(ctx: CanvasRenderingContext2D, exp: string, x: number, baseline: number, align: "right" | "center") {
  const f1 = `21px ${FONT}`;
  const f2 = `16px ${FONT}`;
  const w1 = textWidth(ctx, "10", f1, SX);
  const w2 = textWidth(ctx, exp, f2, SX);
  const w = w1 + 1 + w2;
  const x0 = align === "right" ? x - w : x - w / 2;
  drawStretched(ctx, "10", x0, baseline, f1, SX);
  drawStretched(ctx, exp, x0 + w1 + 1, baseline - 7, f2, SX);
}

function makeTextPlugin(spec: PanelSpec) {
  return {
    id: "panelTexts",
    afterDraw(chart: any) {
      const ctx: CanvasRenderingContext2D = chart.ctx;
      const xs = chart.scales.x;
      const ys = chart.scales.y;
      const { top, bottom, left, right } = chart.chartArea;
      ctx.save();
      ctx.fillStyle = "#0d0d0d";
      DECADES.forEach((v, i) => {
        drawPow(ctx, DECADE_EXP[i], 100, ys.getPixelForValue(v) + 11, "right");
      });
      DECADES.forEach((v, i) => {
        drawPow(ctx, DECADE_EXP[i], xs.getPixelForValue(v) + 1, bottom + 43, "center");
      });
      const fT = `21px ${FONT}`;
      const wT = textWidth(ctx, spec.xTitle, fT, SX);
      drawStretched(ctx, spec.xTitle, (left + right) / 2 - wT / 2, bottom + 80, fT, SX);
      ctx.save();
      ctx.font = `26px ${FONT}`;
      ctx.textAlign = "center";
      ctx.textBaseline = "alphabetic";
      ctx.translate(spec.yTitleX, (top + bottom) / 2);
      ctx.rotate(-Math.PI / 2);
      ctx.fillText("FL3\u2212H (PI)", 0, 0);
      ctx.restore();
      drawStretched(ctx, spec.label, spec.labelX, spec.labelY, `bold 18px ${FONT}`, 1.15);
      const fG = `23px ${FONT}`;
      spec.gateLabels.forEach(([t, vx, vy]) => {
        const px = xs.getPixelForValue(vx);
        const py = ys.getPixelForValue(vy);
        const w = textWidth(ctx, t, fG, SX);
        drawStretched(ctx, t, px - w / 2, py + 8, fG, SX);
      });
      ctx.restore();
    },
  };
}

function axisOptions(isX: boolean) {
  return {
    type: "logarithmic",
    min: 1,
    max: 10000,
    position: isX ? "bottom" : "left",
    grid: { display: true, drawOnChartArea: false, drawTicks: true, tickLength: 9, color: AXIS, lineWidth: 1 },
    border: { display: true, color: AXIS, width: 1 },
    ticks: { display: false },
    afterBuildTicks: (s: any) => {
      s.ticks = AXIS_TICKS.map((v) => ({ value: v }));
    },
    afterFit: (s: any) => {
      if (isX) s.height = 10;
      else s.width = 120;
    },
  };
}

function buildConfig(spec: PanelSpec): any {
  const toXY = (arr: P[]) => arr.map(([x, y]) => ({ x, y }));
  const datasets: any[] = [];
  spec.lines.forEach((l) =>
    datasets.push({ data: toXY(l), showLine: true, borderColor: AXIS, borderWidth: 1.1, pointRadius: 0, fill: false })
  );
  spec.gates.forEach((g) =>
    datasets.push({
      data: toXY([...g, g[0]]), showLine: true, borderColor: "#262626", borderWidth: 1, pointRadius: 0, fill: false,
    })
  );
  const pts = (s: P[], r: number) => ({
    data: toXY(s), pointRadius: r, pointHoverRadius: r, backgroundColor: INK, borderWidth: 0,
  });
  spec.sparse.forEach((s) => datasets.push(pts(s, SPARSE_R)));
  spec.halos.forEach((s) => datasets.push(pts(s, HALO_R)));
  spec.cores.forEach((s) => datasets.push(pts(s, CORE_R)));
  return {
    type: "scatter",
    data: { datasets },
    options: {
      responsive: false,
      animation: false,
      devicePixelRatio: 1,
      events: [],
      layout: { padding: { left: 0, right: 25, top: 22, bottom: spec.height - spec.bottom - 10 } },
      plugins: { legend: { display: false }, tooltip: { enabled: false } },
      scales: { x: axisOptions(true), y: axisOptions(false) },
    },
    plugins: [makeTextPlugin(spec)],
  };
}

function Panel({ spec }: { spec: PanelSpec }) {
  const ref = useRef<HTMLCanvasElement>(null);
  useEffect(() => {
    if (!ref.current) return;
    const chart = new Chart(ref.current, buildConfig(spec));
    return () => chart.destroy();
  }, [spec]);
  return (
    <canvas
      ref={ref}
      width={469}
      height={spec.height}
      style={{ position: "absolute", left: 0, top: spec.top, width: 469, height: spec.height, display: "block" }}
    />
  );
}

export default function App() {
  return (
    <div style={{ position: "absolute", left: 0, top: 0, width: 469, height: 1374, background: "#fff" }}>
      {PANELS.map((p, i) => (
        <Panel key={i} spec={p} />
      ))}
    </div>
  );
}
